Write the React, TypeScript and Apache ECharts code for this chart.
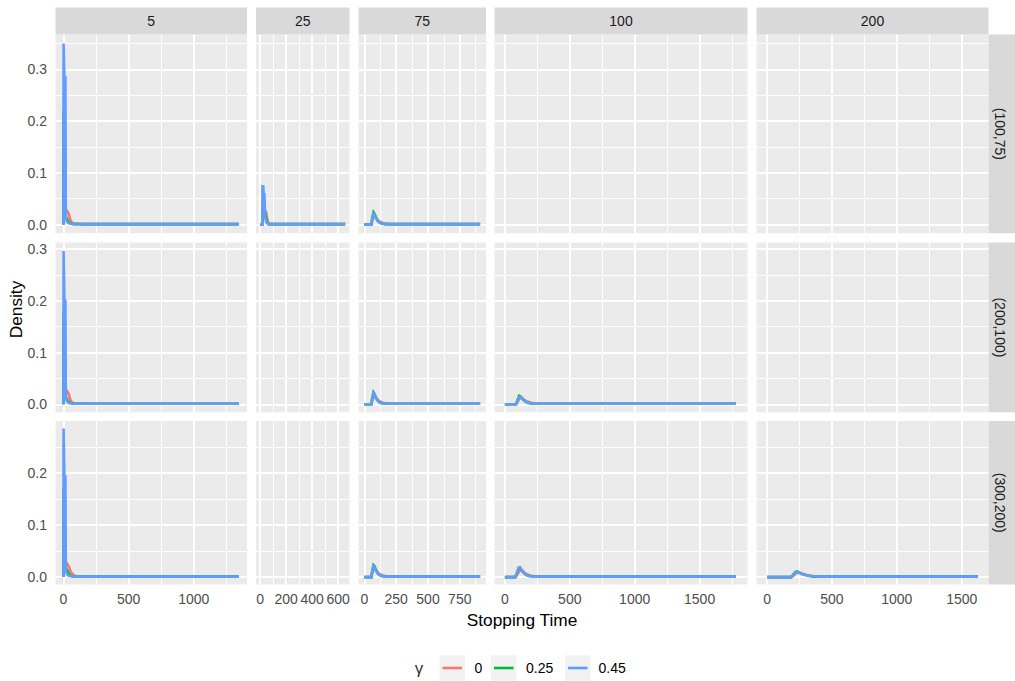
import React, { useEffect, useRef } from 'react';
import * as echarts from 'echarts';

const FONT = '"Liberation Sans", Arial, Helvetica, sans-serif';

// ---- categories ----
const COLS = ['5', '25', '75', '100', '200'];
const ROWS = ['(100,75)', '(200,100)', '(300,200)'];
const GAMMAS = ['0', '0.25', '0.45'];
const COLORS = ['#F8766D', '#00BA38', '#619CFF'];

// ---- axis scales (per column / per row) ----
const X_MIN = [-60, -31, -46, -80, -81];
const X_MAX = [1408, 687, 956, 1869, 1706];
const X_MAJOR = [[0, 500, 1000], [0, 200, 400, 600], [0, 250, 500, 750], [0, 500, 1000, 1500], [0, 500, 1000, 1500]];
const X_MINOR = [[250, 750, 1250], [100, 300, 500], [125, 375, 625, 875], [250, 750, 1250, 1750], [250, 750, 1250]];
const Y_MIN = [-0.0168, -0.0154, -0.0142];
const Y_MAX = [0.3675, 0.3124, 0.2995];
const Y_MAJOR = [[0, 0.1, 0.2, 0.3], [0, 0.1, 0.2, 0.3], [0, 0.1, 0.2]];
const Y_MINOR = [[0.05, 0.15, 0.25, 0.35], [0.05, 0.15, 0.25], [0.05, 0.15, 0.25]];

// ---- series values: [stopping time, density] ----
// row (100,75)
const d100_75_m5_g0 = [[1, 0], [2, 0.15], [6, 0.12], [8, 0.1], [16, 0.06], [19, 0.022], [30, 0.026], [40, 0.022], [50, 0.012], [62, 0.005], [80, 0.002], [150, 0.001], [1345, 0.001]];
const d100_75_m5_g25 = [[1, 0], [2, 0.22], [6, 0.2], [8, 0.16], [16, 0.12], [19, 0.013], [28, 0.012], [36, 0.007], [50, 0.003], [80, 0.001], [1345, 0.001]];
const d100_75_m5_g45 = [[1, 0], [2, 0.35], [6, 0.35], [8, 0.285], [16, 0.285], [19, 0.012], [25, 0.008], [33, 0.004], [48, 0.002], [85, 0.001], [1345, 0.001]];
const d100_75_m25_g0 = [[0, 0], [17, 0], [19, 0.025], [34, 0.024], [40, 0.026], [46, 0.025], [54, 0.012], [62, 0.004], [75, 0.001], [654, 0.001]];
const d100_75_m25_g25 = [[0, 0], [17, 0], [19, 0.03], [28, 0.03], [34, 0.028], [40, 0.023], [48, 0.01], [56, 0.003], [66, 0.001], [654, 0.001]];
const d100_75_m25_g45 = [[0, 0], [17, 0], [19, 0.074], [25, 0.074], [28, 0.058], [34, 0.058], [40, 0.012], [50, 0.004], [62, 0.001], [654, 0.001]];
const d100_75_m75_g0 = [[0, 0], [56, 0], [64, 0.01], [73, 0.019], [82, 0.018], [94, 0.013], [108, 0.008], [125, 0.005], [145, 0.003], [170, 0.002], [200, 0.001], [910, 0.001]];
const d100_75_m75_g25 = [[0, 0], [55, 0], [63, 0.014], [72, 0.024], [80, 0.021], [90, 0.014], [102, 0.008], [118, 0.004], [135, 0.002], [165, 0.001], [910, 0.001]];
const d100_75_m75_g45 = [[0, 0], [55, 0], [62, 0.012], [70, 0.021], [78, 0.02], [88, 0.014], [100, 0.009], [115, 0.005], [130, 0.003], [160, 0.001], [910, 0.001]];
// row (200,100)
const d200_100_m5_g0 = [[1, 0], [2, 0.13], [6, 0.1], [8, 0.08], [16, 0.05], [19, 0.02], [30, 0.025], [40, 0.021], [50, 0.011], [62, 0.005], [80, 0.002], [150, 0.001], [1345, 0.001]];
const d200_100_m5_g25 = [[1, 0], [2, 0.18], [6, 0.15], [8, 0.12], [16, 0.09], [19, 0.012], [28, 0.011], [36, 0.006], [50, 0.003], [80, 0.001], [1345, 0.001]];
const d200_100_m5_g45 = [[1, 0], [2, 0.296], [6, 0.296], [8, 0.2], [16, 0.2], [19, 0.012], [25, 0.008], [33, 0.004], [48, 0.002], [85, 0.001], [1345, 0.001]];
const d200_100_m75_g0 = [[0, 0], [56, 0], [64, 0.009], [73, 0.018], [82, 0.017], [94, 0.012], [108, 0.008], [125, 0.005], [145, 0.003], [170, 0.002], [200, 0.001], [910, 0.001]];
const d200_100_m75_g25 = [[0, 0], [55, 0], [63, 0.013], [72, 0.023], [80, 0.02], [90, 0.013], [102, 0.008], [118, 0.004], [135, 0.002], [165, 0.001], [910, 0.001]];
const d200_100_m75_g45 = [[0, 0], [55, 0], [62, 0.012], [70, 0.022], [78, 0.02], [88, 0.014], [100, 0.009], [115, 0.005], [130, 0.003], [160, 0.001], [910, 0.001]];
const d200_100_m100_g0 = [[0, 0], [88, 0], [100, 0.006], [115, 0.012], [128, 0.012], [145, 0.009], [165, 0.006], [190, 0.004], [215, 0.002], [250, 0.001], [1780, 0.001]];
const d200_100_m100_g25 = [[0, 0], [86, 0], [97, 0.008], [110, 0.0165], [122, 0.015], [138, 0.01], [155, 0.006], [175, 0.003], [200, 0.0015], [240, 0.001], [1780, 0.001]];
const d200_100_m100_g45 = [[0, 0], [85, 0], [95, 0.006], [108, 0.014], [120, 0.0145], [135, 0.011], [150, 0.007], [170, 0.004], [195, 0.002], [230, 0.001], [1780, 0.001]];
// row (300,200)
const d300_200_m5_g0 = [[1, 0], [2, 0.12], [6, 0.095], [8, 0.075], [16, 0.045], [19, 0.02], [30, 0.025], [42, 0.02], [55, 0.011], [72, 0.005], [95, 0.002], [150, 0.001], [1345, 0.001]];
const d300_200_m5_g25 = [[1, 0], [2, 0.17], [6, 0.14], [8, 0.11], [16, 0.08], [19, 0.016], [28, 0.014], [38, 0.008], [52, 0.003], [85, 0.001], [1345, 0.001]];
const d300_200_m5_g45 = [[1, 0], [2, 0.285], [6, 0.285], [8, 0.193], [16, 0.193], [19, 0.012], [25, 0.008], [33, 0.004], [48, 0.002], [85, 0.001], [1345, 0.001]];
const d300_200_m75_g0 = [[0, 0], [56, 0], [64, 0.01], [73, 0.019], [82, 0.018], [94, 0.013], [108, 0.008], [125, 0.005], [145, 0.003], [170, 0.002], [200, 0.001], [910, 0.001]];
const d300_200_m75_g25 = [[0, 0], [55, 0], [63, 0.013], [72, 0.023], [80, 0.021], [90, 0.014], [102, 0.008], [118, 0.004], [135, 0.002], [165, 0.001], [910, 0.001]];
const d300_200_m75_g45 = [[0, 0], [55, 0], [62, 0.012], [70, 0.021], [78, 0.02], [88, 0.014], [100, 0.009], [115, 0.005], [130, 0.003], [160, 0.001], [910, 0.001]];
const d300_200_m100_g0 = [[0, 0], [82, 0], [96, 0.005], [110, 0.011], [122, 0.014], [136, 0.012], [152, 0.008], [172, 0.005], [195, 0.003], [225, 0.0015], [260, 0.001], [1780, 0.001]];
const d300_200_m100_g25 = [[0, 0], [80, 0], [93, 0.008], [106, 0.017], [117, 0.018], [130, 0.013], [145, 0.008], [165, 0.004], [190, 0.002], [220, 0.001], [1780, 0.001]];
const d300_200_m100_g45 = [[0, 0], [80, 0], [92, 0.008], [105, 0.018], [115, 0.019], [128, 0.014], [142, 0.009], [160, 0.005], [185, 0.002], [220, 0.001], [1780, 0.001]];
const d300_200_m200_g0 = [[0, 0], [188, 0], [205, 0.003], [222, 0.007], [238, 0.009], [258, 0.008], [280, 0.006], [305, 0.004], [330, 0.003], [360, 0.0015], [410, 0.001], [1625, 0.001]];
const d300_200_m200_g25 = [[0, 0], [186, 0], [202, 0.005], [218, 0.01], [232, 0.011], [252, 0.008], [272, 0.006], [298, 0.004], [325, 0.002], [360, 0.001], [1625, 0.001]];
const d300_200_m200_g45 = [[0, 0], [185, 0], [200, 0.004], [215, 0.009], [230, 0.01], [250, 0.008], [270, 0.006], [295, 0.004], [320, 0.0025], [350, 0.0015], [400, 0.001], [1625, 0.001]];

const PANEL_DATA: (number[][][] | null)[][] = [
  [
    [d100_75_m5_g0, d100_75_m5_g25, d100_75_m5_g45],
    [d100_75_m25_g0, d100_75_m25_g25, d100_75_m25_g45],
    [d100_75_m75_g0, d100_75_m75_g25, d100_75_m75_g45],
    null,
    null,
  ],
  [
    [d200_100_m5_g0, d200_100_m5_g25, d200_100_m5_g45],
    null,
    [d200_100_m75_g0, d200_100_m75_g25, d200_100_m75_g45],
    [d200_100_m100_g0, d200_100_m100_g25, d200_100_m100_g45],
    null,
  ],
  [
    [d300_200_m5_g0, d300_200_m5_g25, d300_200_m5_g45],
    null,
    [d300_200_m75_g0, d300_200_m75_g25, d300_200_m75_g45],
    [d300_200_m100_g0, d300_200_m100_g25, d300_200_m100_g45],
    [d300_200_m200_g0, d300_200_m200_g25, d300_200_m200_g45],
  ],
];

// ---- layout (pixels) ----
const COL_LEFT = [55.5, 256, 358.5, 494.5, 756.5];
const COL_RIGHT = [247, 349.5, 486, 747.5, 988.5];
const ROW_TOP = [34.5, 242.5, 421];
const ROW_BOTTOM = [233.3, 412.3, 584.5];
const STRIP_TOP = 7.5;
const STRIP_RIGHT_X = 988.5;
const LINE_W = 2.6;

function buildOption() {
  const grids: any[] = [];
  const xAxes: any[] = [];
  const yAxes: any[] = [];
  const series: any[] = [];
  const graphics: any[] = [];

  ROWS.forEach((_, r) => {
    COLS.forEach((__, c) => {
      const i = r * COLS.length + c;
      const isBottom = r === ROWS.length - 1;
      const isLeft = c === 0;
      grids.push({
        left: COL_LEFT[c],
        top: ROW_TOP[r],
        width: COL_RIGHT[c] - COL_LEFT[c],
        height: ROW_BOTTOM[r] - ROW_TOP[r],
        show: true,
        backgroundColor: '#EBEBEB',
        borderWidth: 0,
        borderColor: 'transparent',
      });
      xAxes.push({
        type: 'value',
        gridIndex: i,
        min: X_MIN[c],
        max: X_MAX[c],
        axisLine: { show: false },
        splitLine: { show: false },
        axisTick: { show: isBottom, customValues: X_MAJOR[c], length: 4.3, lineStyle: { color: '#333333', width: 1.1 } },
        axisLabel: {
          show: isBottom,
          customValues: X_MAJOR[c],
          color: '#4D4D4D',
          fontSize: 14,
          fontFamily: FONT,
          margin: 7,
          formatter: (v: number) => String(v),
        },
      });
      yAxes.push({
        type: 'value',
        gridIndex: i,
        min: Y_MIN[r],
        max: Y_MAX[r],
        axisLine: { show: false },
        splitLine: { show: false },
        axisTick: { show: isLeft, customValues: Y_MAJOR[r], length: 4.3, lineStyle: { color: '#333333', width: 1.1 } },
        axisLabel: {
          show: isLeft,
          customValues: Y_MAJOR[r],
          color: '#4D4D4D',
          fontSize: 14,
          fontFamily: FONT,
          margin: 8.5,
          formatter: (v: number) => v.toFixed(1),
        },
      });

      const lines: any[] = [];
      X_MINOR[c].forEach((v) => lines.push({ xAxis: v, lineStyle: { width: 1 } }));
      Y_MINOR[r].forEach((v) => lines.push({ yAxis: v, lineStyle: { width: 1 } }));
      X_MAJOR[c].forEach((v) => lines.push({ xAxis: v, lineStyle: { width: 2 } }));
      Y_MAJOR[r].forEach((v) => lines.push({ yAxis: v, lineStyle: { width: 2 } }));
      series.push({
        type: 'line',
        name: 'grid' + i,
        xAxisIndex: i,
        yAxisIndex: i,
        data: [],
        silent: true,
        symbol: 'none',
        z: 1,
        markLine: {
          silent: true,
          symbol: ['none', 'none'],
          label: { show: false },
          z: 1,
          emphasis: { disabled: true },
          lineStyle: { color: '#FFFFFF', type: 'solid', opacity: 1 },
          data: lines,
        },
      });

      const pd = PANEL_DATA[r][c];
      if (pd) {
        pd.forEach((d, g) => {
          series.push({
            type: 'line',
            name: GAMMAS[g],
            xAxisIndex: i,
            yAxisIndex: i,
            data: d,
            symbol: 'none',
            showSymbol: false,
            clip: true,
            z: 2 + g,
            lineStyle: { color: COLORS[g], width: LINE_W, join: 'miter' },
            itemStyle: { color: COLORS[g] },
          });
        });
      }
    });
  });

  // top strips
  COLS.forEach((label, c) => {
    graphics.push({
      type: 'rect',
      shape: { x: COL_LEFT[c], y: STRIP_TOP, width: COL_RIGHT[c] - COL_LEFT[c], height: ROW_TOP[0] - STRIP_TOP },
      style: { fill: '#D9D9D9' },
    });
    graphics.push({
      type: 'text',
      x: (COL_LEFT[c] + COL_RIGHT[c]) / 2,
      y: (STRIP_TOP + ROW_TOP[0]) / 2,
      style: { text: label, fill: '#1A1A1A', fontSize: 14, fontFamily: FONT, align: 'center', verticalAlign: 'middle' },
    });
  });
  // right strips
  ROWS.forEach((label, r) => {
    graphics.push({
      type: 'rect',
      shape: { x: STRIP_RIGHT_X, y: ROW_TOP[r], width: 1015 - STRIP_RIGHT_X, height: ROW_BOTTOM[r] - ROW_TOP[r] },
      style: { fill: '#D9D9D9' },
    });
    graphics.push({
      type: 'text',
      x: 1000,
      y: (ROW_TOP[r] + ROW_BOTTOM[r]) / 2,
      rotation: -Math.PI / 2,
      style: { text: label, fill: '#1A1A1A', fontSize: 14, fontFamily: FONT, align: 'center', verticalAlign: 'middle' },
    });
  });
  // axis titles
  graphics.push({
    type: 'text',
    x: 15.5,
    y: (ROW_TOP[0] + ROW_BOTTOM[2]) / 2,
    rotation: Math.PI / 2,
    style: { text: 'Density', fill: '#000000', fontSize: 17.3, fontFamily: FONT, align: 'center', verticalAlign: 'middle' },
  });
  graphics.push({
    type: 'text',
    x: (COL_LEFT[0] + COL_RIGHT[4]) / 2,
    y: 620,
    style: { text: 'Stopping Time', fill: '#000000', fontSize: 17.3, fontFamily: FONT, align: 'center', verticalAlign: 'middle' },
  });
  // legend
  const LEG_Y = 668;
  const KEY_X = [439.5, 491, 565];
  const KEY_TEXT_X = [474.5, 526, 598.5];
  const KEY = 25.5;
  graphics.push({
    type: 'text',
    x: 419,
    y: LEG_Y,
    style: { text: 'γ', fill: '#333333', fontSize: 17, fontFamily: FONT, align: 'center', verticalAlign: 'middle' },
  });
  GAMMAS.forEach((g, k) => {
    graphics.push({
      type: 'rect',
      shape: { x: KEY_X[k], y: LEG_Y - KEY / 2, width: KEY, height: KEY },
      style: { fill: '#F2F2F2' },
    });
    graphics.push({
      type: 'line',
      shape: { x1: KEY_X[k] + 3, y1: LEG_Y, x2: KEY_X[k] + KEY - 3, y2: LEG_Y },
      style: { stroke: COLORS[k], lineWidth: LINE_W },
    });
    graphics.push({
      type: 'text',
      x: KEY_TEXT_X[k],
      y: LEG_Y,
      style: { text: g, fill: '#000000', fontSize: 14, fontFamily: FONT, align: 'left', verticalAlign: 'middle' },
    });
  });

  return {
    animation: false,
    backgroundColor: '#FFFFFF',
    textStyle: { fontFamily: FONT },
    grid: grids,
    xAxis: xAxes,
    yAxis: yAxes,
    series,
    graphic: graphics,
  };
}

export default function App() {
  const ref = useRef<HTMLDivElement>(null);
  useEffect(() => {
    if (!ref.current) return;
    const chart = echarts.init(ref.current, null, { renderer: 'svg' });
    chart.setOption(buildOption() as any);
    return () => {
      chart.dispose();
    };
  }, []);
  return (
    <div
      ref={ref}
      style={{ position: 'absolute', left: 0, top: 0, width: 1015, height: 681, background: '#FFFFFF' }}
    />
  );
}
